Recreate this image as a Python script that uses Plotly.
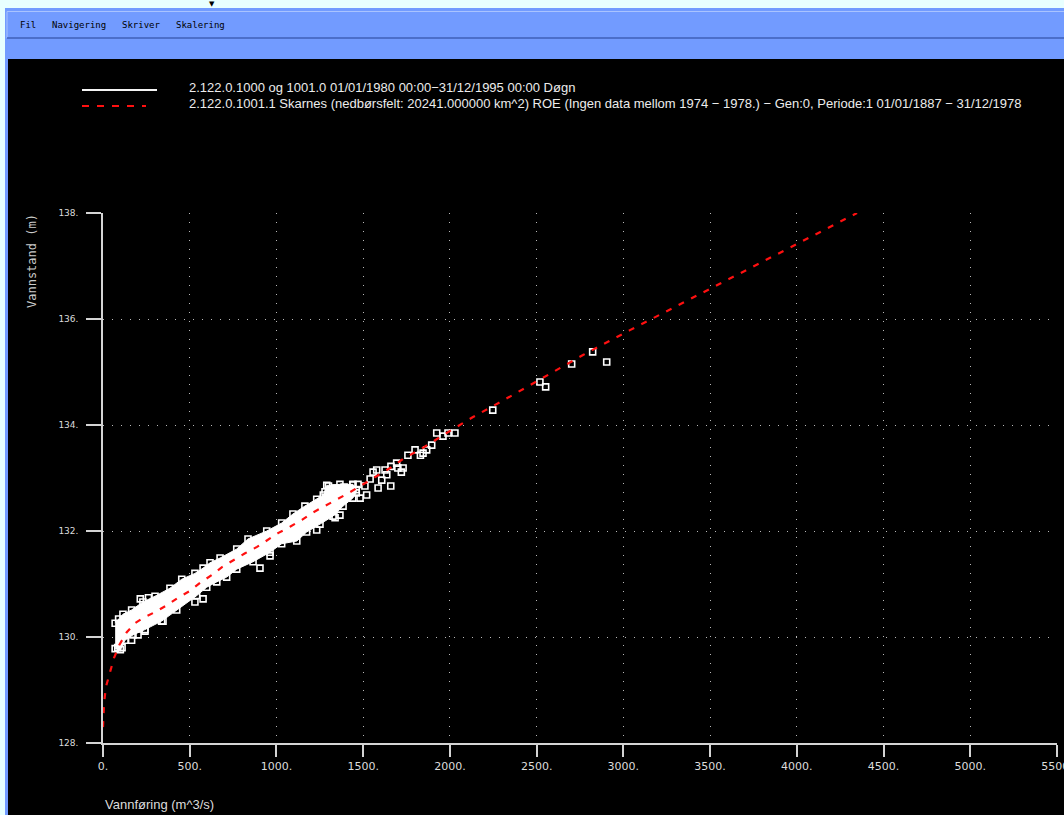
import plotly.graph_objects as go

# ---------------- data ----------------
# Rating curve (red dashed line): discharge (m^3/s) and stage (m)
curve_q = [0, 6, 17, 40, 63, 94, 137, 184, 231, 300, 369, 432, 502, 559, 628, 686,
           750, 819, 888, 951, 1009, 1078, 1147, 1205, 1268, 1338, 1407, 1464, 1540,
           1609, 1666, 1730, 1850, 2001, 2133, 2289, 2491, 2767, 3038, 3500, 4000, 4347]
curve_h = [128.30, 128.75, 129.06, 129.34, 129.60, 129.85, 130.09, 130.26, 130.36,
           130.47, 130.60, 130.74, 130.87, 131.02, 131.17, 131.32, 131.45, 131.58,
           131.70, 131.83, 131.96, 132.08, 132.21, 132.34, 132.45, 132.58, 132.70,
           132.81, 132.96, 133.09, 133.21, 133.36, 133.58, 133.89, 134.15, 134.43,
           134.81, 135.32, 135.79, 136.57, 137.43, 138.00]

# Dense band of daily observations (1980-1995): upper and lower envelope
band_upper_q = [70, 90, 115, 165, 230, 300, 386, 454, 530, 577, 617, 675, 771, 836,
                944, 1030, 1095, 1164, 1232, 1270, 1290, 1366, 1441, 1460]
band_upper_h = [130.26, 130.34, 130.43, 130.51, 130.66, 130.77, 130.92, 131.09,
                131.20, 131.30, 131.40, 131.49, 131.66, 131.85, 132.00, 132.15,
                132.32, 132.47, 132.60, 132.68, 132.86, 132.88, 132.88, 132.78]
band_lower_q = [70, 100, 127, 173, 242, 338, 425, 540, 598, 656, 713, 771, 865, 963,
                1030, 1117, 1174, 1251, 1326, 1384, 1440, 1460]
band_lower_h = [129.78, 129.76, 129.94, 130.04, 130.14, 130.30, 130.51, 130.78,
                130.94, 131.04, 131.13, 131.28, 131.42, 131.60, 131.76, 131.81,
                131.98, 132.13, 132.28, 132.47, 132.62, 132.72]

# Individually visible observation squares
obs_q = [85, 110, 165, 202, 242, 346, 215, 262, 530, 577, 905, 963, 1232, 1338, 1366,
         1280, 1300, 1338, 1390, 1440, 1470, 1482, 1520, 1510, 1540, 1586, 1659,
         1557, 1578, 1626, 1607, 1636, 1660, 1693, 1730, 1700, 1720, 1758, 1799,
         1830, 1845, 1866, 1895, 1924, 1960, 1989, 2029, 2247, 2519, 2552, 2702,
         2823, 2904]
obs_h = [129.80, 129.80, 129.94, 130.04, 130.11, 130.30, 130.72, 130.74, 130.66,
         130.72, 131.30, 131.53, 132.02, 132.25, 132.30,
         132.74, 132.85, 132.81, 132.83, 132.87, 132.88, 132.62, 132.68, 132.85,
         132.98, 132.81, 132.85, 133.11, 133.15, 133.15, 132.96, 133.06, 133.22,
         133.28, 133.19, 133.19, 133.11, 133.43, 133.53, 133.43, 133.47, 133.53,
         133.62, 133.85, 133.79, 133.85, 133.85, 134.28, 134.81, 134.72, 135.15,
         135.38, 135.19]

x_ticks = [0, 500, 1000, 1500, 2000, 2500, 3000, 3500, 4000, 4500, 5000, 5500]
x_ticktext = ["0.", "500.", "1000.", "1500.", "2000.", "2500.", "3000.", "3500.",
              "4000.", "4500.", "5000.", "5500."]
y_ticks = [128, 130, 132, 134, 136, 138]
y_ticktext = ["128.", "130.", "132.", "134.", "136.", "138."]

menu_items = ["Fil", "Navigering", "Skriver", "Skalering"]
legend_texts = [
    "2.122.0.1000 og 1001.0 01/01/1980 00:00\u221231/12/1995 00:00 Døgn",
    "2.122.0.1001.1 Skarnes (nedbørsfelt: 20241.000000 km^2) ROE (Ingen data mellom "
    "1974 \u2212 1978.) \u2212 Gen:0, Periode:1 01/01/1887 \u2212 31/12/1978",
]
x_title = "Vannføring (m^3/s)"
y_title = "Vannstand (m)"

# ---------------- layout geometry (pixels) ----------------
W, H = 1064, 815
L, R, T, B = 103, 1057, 213, 743


def px(x):
    return (x - L) / (R - L)


def py(y):
    return (B - y) / (B - T)


fig = go.Figure()

# band of dense observations (filled, with squares on its jagged edge)
fig.add_trace(go.Scatter(
    x=band_upper_q + band_lower_q[::-1],
    y=band_upper_h + band_lower_h[::-1],
    mode="lines+markers", fill="toself", fillcolor="white",
    line=dict(color="white", width=1),
    marker=dict(symbol="square-open", size=6, color="white",
                line=dict(width=1.6, color="white")),
    hoverinfo="skip", showlegend=False))

# individual observations
fig.add_trace(go.Scatter(
    x=obs_q, y=obs_h, mode="markers",
    marker=dict(symbol="square-open", size=6, color="white",
                line=dict(width=1.6, color="white")),
    showlegend=False))

# rating curve
fig.add_trace(go.Scatter(
    x=curve_q, y=curve_h, mode="lines",
    line=dict(color="#ff1010", width=2.2, dash="6px,8px"),
    showlegend=False))

shapes = []
# window chrome
shapes.append(dict(type="rect", xref="paper", yref="paper", layer="below",
                   x0=px(5), x1=px(W + 2), y0=py(8), y1=py(H + 2),
                   fillcolor="#729bff", line=dict(width=0)))
shapes.append(dict(type="rect", xref="paper", yref="paper", layer="below",
                   x0=px(8), x1=px(W + 2), y0=py(59), y1=py(H + 2),
                   fillcolor="black", line=dict(width=0)))
shapes.append(dict(type="line", xref="paper", yref="paper", layer="below",
                   x0=px(7), x1=px(W + 2), y0=py(11.5), y1=py(11.5),
                   line=dict(color="#a9c3ff", width=1)))
shapes.append(dict(type="line", xref="paper", yref="paper", layer="below",
                   x0=px(7), x1=px(7), y0=py(11.5), y1=py(38),
                   line=dict(color="#a9c3ff", width=1)))
shapes.append(dict(type="line", xref="paper", yref="paper", layer="below",
                   x0=px(7), x1=px(W + 2), y0=py(38), y1=py(38),
                   line=dict(color="#3f5fb8", width=1.5)))
# legend samples
shapes.append(dict(type="line", xref="paper", yref="paper",
                   x0=px(82), x1=px(157), y0=py(90), y1=py(90),
                   line=dict(color="#f4f4f4", width=2)))
shapes.append(dict(type="line", xref="paper", yref="paper",
                   x0=px(82), x1=px(146), y0=py(106), y1=py(106),
                   line=dict(color="#ff1010", width=2, dash="7px,8px")))

annotations = []
menu_x = [18, 50, 120, 174]
for txt, mx in zip(menu_items, menu_x):
    annotations.append(dict(text=txt, xref="paper", yref="paper", x=px(mx), y=py(25),
                            xanchor="left", yanchor="middle", showarrow=False,
                            font=dict(family="DejaVu Sans Mono", size=9, color="black")))
annotations.append(dict(text="\u25bc", xref="paper", yref="paper", x=px(212), y=py(4),
                        xanchor="center", yanchor="middle", showarrow=False,
                        font=dict(family="DejaVu Sans", size=7, color="black")))
for txt, ly in zip(legend_texts, [87, 103]):
    annotations.append(dict(text=txt, xref="paper", yref="paper", x=px(187), y=py(ly),
                            xanchor="left", yanchor="middle", showarrow=False,
                            font=dict(family="Liberation Sans", size=13, color="#ececec")))
annotations.append(dict(text=x_title, xref="paper", yref="paper", x=px(103), y=py(804),
                        xanchor="left", yanchor="middle", showarrow=False,
                        font=dict(family="Liberation Sans", size=13, color="#dcdcdc")))
annotations.append(dict(text=y_title, xref="paper", yref="paper", x=px(32), y=py(261),
                        xanchor="center", yanchor="middle", showarrow=False,
                        textangle=-90,
                        font=dict(family="DejaVu Sans Mono", size=12, color="#cccccc")))

axis_common = dict(showgrid=True, gridcolor="#b8b8b8", gridwidth=1, griddash="1px,8px",
                   showline=True, linecolor="#d4d4d4", linewidth=1.5,
                   ticks="outside", tickcolor="#d4d4d4", tickwidth=1.5,
                   zeroline=False, fixedrange=True, automargin=False)

fig.update_layout(
    width=W, height=H,
    margin=dict(l=L, r=W - R, t=T, b=H - B, autoexpand=False),
    paper_bgcolor="#e8ffff", plot_bgcolor="black",
    showlegend=False,
    shapes=shapes, annotations=annotations,
    xaxis=dict(range=[0, 5500], tickmode="array", tickvals=x_ticks, ticktext=x_ticktext,
               ticklen=12, ticklabeloverflow="allow",
               tickfont=dict(family="DejaVu Sans", size=11, color="#dcdcdc"),
               **axis_common),
    yaxis=dict(range=[128, 138], tickmode="array", tickvals=y_ticks, ticktext=y_ticktext,
               ticklen=15, ticklabelstandoff=6,
               tickfont=dict(family="DejaVu Sans", size=9, color="#dcdcdc"),
               **axis_common),
)

fig.write_html("out.html")
